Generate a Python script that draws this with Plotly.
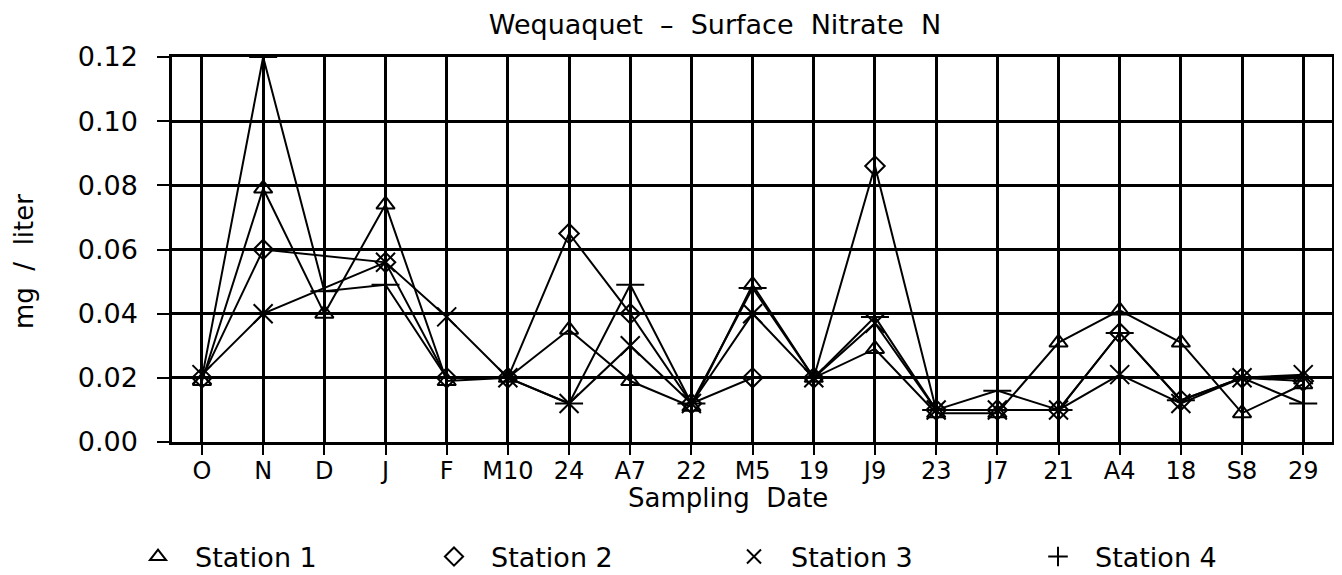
import plotly.graph_objects as go

dates = ["O", "N", "D", "J", "F", "M10", "24", "A7", "22", "M5",
         "19", "J9", "23", "J7", "21", "A4", "18", "S8", "29"]

# None = no sample on that date (line drawn straight across)
station1 = [0.019, 0.079, 0.040, 0.074, 0.019, 0.020, 0.035, 0.019, 0.011, 0.049,
            0.020, 0.029, 0.009, 0.009, 0.031, 0.041, 0.031, 0.009, 0.018]
station2 = [0.020, 0.060, None, 0.056, 0.020, 0.020, 0.065, 0.040, 0.012, 0.020,
            0.020, 0.086, 0.010, 0.010, 0.010, 0.034, 0.013, 0.020, 0.019]
station3 = [0.021, 0.040, None, 0.056, 0.039, 0.020, 0.012, 0.030, 0.012, 0.040,
            0.020, 0.037, 0.010, 0.010, 0.010, 0.021, 0.012, 0.020, 0.021]
station4 = [0.020, 0.120, 0.047, 0.049, 0.020, 0.020, 0.012, 0.049, 0.012, 0.048,
            0.020, 0.039, 0.010, 0.016, 0.010, 0.034, 0.013, 0.020, 0.012]

# the page body has an 8px margin: work in figure pixels (page - 8)
W, H = 1334, 567
L, R, T, B = 164, 1324, 49, 434          # plot area in figure pixels

series = [
    ("Station 1", station1, "triangle-up-open", 16, "legend", 113),
    ("Station 2", station2, "diamond-open", 15, "legend2", 409),
    ("Station 3", station3, "x-thin-open", 19, "legend3", 709),
    ("Station 4", station4, "cross-thin-open", 20, "legend4", 1013),
]

FONT = "DejaVu Sans"
fig = go.Figure()
legends = {}
for name, vals, sym, size, leg, lx in series:
    fig.add_trace(go.Scatter(
        x=dates, y=vals, mode="lines+markers", name=name, connectgaps=True,
        line=dict(color="black", width=2),
        marker=dict(symbol=sym, size=size, color="black",
                    line=dict(color="black", width=2)),
        showlegend=False,
    ))
    # legend entry showing only the symbol
    fig.add_trace(go.Scatter(
        x=[None], y=[None], mode="markers", name=name, legend=leg,
        marker=dict(symbol=sym, size=14, color="black",
                    line=dict(color="black", width=2)),
        showlegend=True,
    ))
    legends[leg] = dict(orientation="h", xref="container", yref="container",
                        x=lx / W, xanchor="left", y=1 - 549 / H, yanchor="middle",
                        font=dict(family=FONT, size=27, color="black"),
                        itemwidth=64, bgcolor="rgba(0,0,0,0)")

def px(xf):
    return (xf - L) / (R - L)

def py(yf):
    return (B - yf) / (B - T)

fig.update_layout(
    width=W, height=H,
    margin=dict(l=L, r=W - R, t=T, b=H - B, autoexpand=False),
    paper_bgcolor="white", plot_bgcolor="white",
    font=dict(family=FONT, color="black"),
    title=dict(text="Wequaquet  –  Surface  Nitrate  N", x=707 / W, xanchor="center",
               xref="container", y=1 - 17 / H, yanchor="middle", yref="container",
               font=dict(family=FONT, size=27, color="black")),
    **legends,
    xaxis=dict(
        type="category", range=[-0.49, 18.47], automargin=False,
        showgrid=True, gridcolor="black", gridwidth=2.5,
        showline=True, linecolor="black", linewidth=2.5, mirror=True,
        ticks="outside", ticklen=10, tickwidth=2, tickcolor="black",
        ticklabelstandoff=-5,
        tickfont=dict(family=FONT, size=24, color="black"),
    ),
    yaxis=dict(
        range=[0, 0.12], tickvals=[0, 0.02, 0.04, 0.06, 0.08, 0.10, 0.12],
        tickformat=".2f", automargin=False,
        showgrid=True, gridcolor="black", gridwidth=2.5,
        zeroline=False,
        showline=True, linecolor="black", linewidth=2.5, mirror=True,
        ticks="outside", ticklen=12, tickwidth=2, tickcolor="black",
        ticklabelstandoff=14,
        tickfont=dict(family=FONT, size=27, color="black"),
    ),
    annotations=[
        dict(text="Sampling  Date", xref="paper", yref="paper",
             x=px(720), y=py(490), xanchor="center", yanchor="middle",
             showarrow=False, font=dict(family=FONT, size=26, color="black")),
        dict(text="mg  /  liter", xref="paper", yref="paper", textangle=-90,
             x=px(16), y=py(254), xanchor="center", yanchor="middle",
             showarrow=False, font=dict(family=FONT, size=26, color="black")),
    ],
)

fig.write_html("out.html")
